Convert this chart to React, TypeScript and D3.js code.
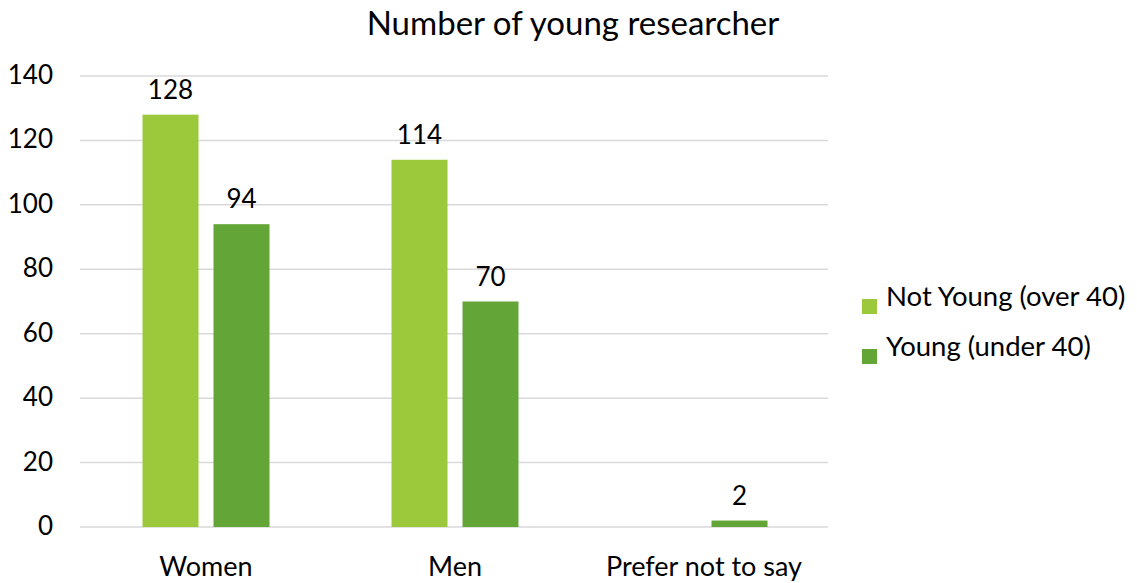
import React from "react";
import * as d3 from "d3";

const categories = ["Women", "Men", "Prefer not to say"];
const seriesNames = ["Not Young (over 40)", "Young (under 40)"];
const notYoung = [128, 114, 0];
const young = [94, 70, 2];
const yTicks = [0, 20, 40, 60, 80, 100, 120, 140];
const colors = ["#9BC93B", "#63A537"];

const W = 1137;
const H = 583;
const FONT = "Lato, 'Open Sans', sans-serif";

export default function App() {
  const left = 80;
  const right = 828;
  const top = 76;
  const bottom = 527;

  const y = d3.scaleLinear().domain([0, 140]).range([bottom, top]);
  const x0 = d3.scaleBand<string>().domain(categories).range([81.5, 828.5]).paddingInner(0).paddingOuter(0);
  const groupW = 127;
  const x1 = d3.scaleBand<string>().domain(seriesNames).range([0, groupW]).paddingInner(0.2113).paddingOuter(0);
  const values = [notYoung, young];

  return (
    <svg width={W} height={H} style={{ position: "absolute", left: 0, top: 0, background: "#fff" }}>
      <text x={573} y={35} textAnchor="middle" fontFamily={FONT} fontSize={33} fill="#000">
        Number of young researcher
      </text>
      {yTicks.map((t) => (
        <g key={t}>
          <line x1={left} x2={right} y1={y(t)} y2={y(t)} stroke="#d9d9d9" strokeWidth={1.5} />
          <text x={53} y={y(t) + 8} textAnchor="end" fontFamily={FONT} fontSize={26} fill="#000">
            {t}
          </text>
        </g>
      ))}
      {categories.map((c, ci) => {
        const gx = (x0(c) ?? 0) + (x0.bandwidth() - groupW) / 2;
        return (
          <g key={c}>
            {seriesNames.map((s, si) => {
              const v = values[si][ci];
              if (!v) return null;
              const bx = gx + (x1(s) ?? 0);
              return (
                <g key={s}>
                  <rect x={bx} y={y(v)} width={x1.bandwidth()} height={y(0) - y(v)} fill={colors[si]} />
                  <text
                    x={bx + x1.bandwidth() / 2}
                    y={y(v) - 16}
                    textAnchor="middle"
                    fontFamily={FONT}
                    fontSize={26}
                    fill="#000"
                  >
                    {v}
                  </text>
                </g>
              );
            })}
            <text
              x={(x0(c) ?? 0) + x0.bandwidth() / 2}
              y={576}
              textAnchor="middle"
              fontFamily={FONT}
              fontSize={27}
              fill="#000"
            >
              {c}
            </text>
          </g>
        );
      })}
      {seriesNames.map((s, i) => (
        <g key={s} transform={`translate(862, ${299 + i * 50})`}>
          <rect x={0} y={0} width={15} height={15} fill={colors[i]} />
          <text x={24} y={7} fontFamily={FONT} fontSize={27.5} fill="#000">
            {s}
          </text>
        </g>
      ))}
    </svg>
  );
}
